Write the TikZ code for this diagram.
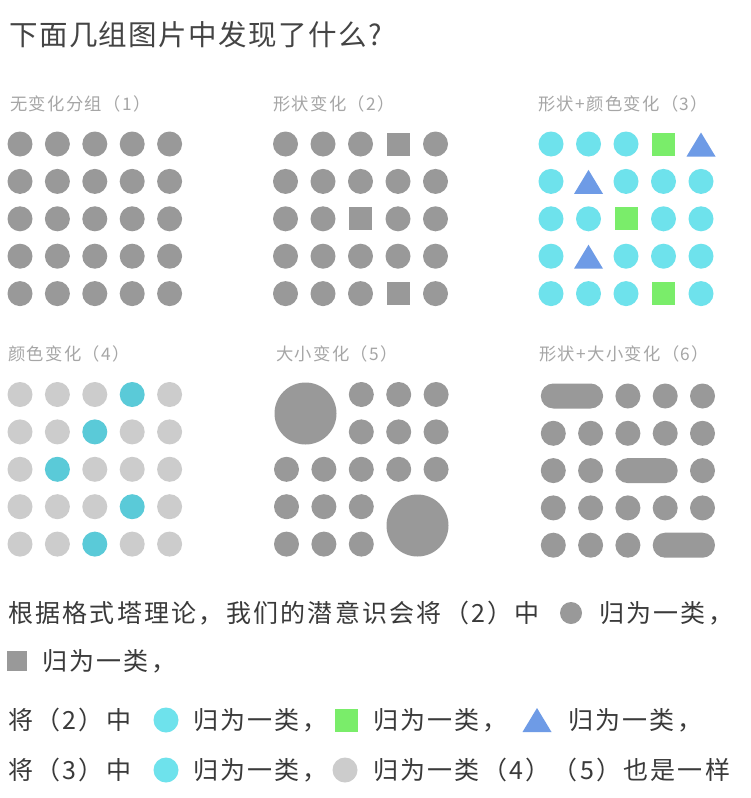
\documentclass[tikz,border=0pt]{standalone}
\usepackage{fontspec}
\newfontfamily\cjktitle[LetterSpace=5]{Noto Sans CJK SC}
\newfontfamily\cjklabel[LetterSpace=8]{Noto Sans CJK SC}
\newfontfamily\cjkbody[LetterSpace=9]{Noto Sans CJK SC}
\definecolor{dotgray}{HTML}{999999}
\definecolor{ltgray}{HTML}{CCCCCC}
\definecolor{cyanA}{HTML}{6EE2EC}
\definecolor{cyanB}{HTML}{5ACAD8}
\definecolor{greenA}{HTML}{7AED6A}
\definecolor{blueA}{HTML}{6E9BE6}
\definecolor{titlegray}{HTML}{444444}
\definecolor{labelgray}{HTML}{A6A6A6}
\definecolor{textgray}{HTML}{3A3A3A}
\tikzset{
  titletext/.style={anchor=west,inner sep=0pt,text=titlegray,font=\cjktitle\fontsize{28.5}{30}\selectfont},
  labeltext/.style={anchor=west,inner sep=0pt,text=labelgray,font=\cjklabel\fontsize{17.3}{19}\selectfont},
  bodytext/.style={anchor=west,inner sep=0pt,text=textgray,font=\cjkbody\fontsize{25}{27}\selectfont},
}
\newcommand\dotc[3]{\fill[#1] (#2,#3) circle[radius=12.5pt];}
\newcommand\sqc[3]{\fill[#1] (#2-11.5,#3-11.5) rectangle (#2+11.5,#3+11.5);}
\newcommand\trc[3]{\fill[#1] (#2-14.5,#3+12) -- (#2,#3-12) -- (#2+14.5,#3+12) -- cycle;}
\begin{document}
\begin{tikzpicture}[x=1pt,y=-1pt]
\useasboundingbox (0,0) rectangle (750,798);
\fill[white] (0,0) rectangle (750,798);
% title
\node[titletext] (title) at (9,35) {下面几组图片中发现了什么?};
% labels
\node[labeltext] (l1) at (10,104) {无变化分组（1）};
\node[labeltext] (l2) at (273,104) {形状变化（2）};
\node[labeltext] (l3) at (538,104) {形状+颜色变化（3）};
\node[labeltext] (l4) at (8,354) {颜色变化（4）};
\node[labeltext] (l5) at (276,354) {大小变化（5）};
\node[labeltext] (l6) at (539,354) {形状+大小变化（6）};
% panel 1
\foreach \i in {0,...,4}{\foreach \j in {0,...,4}{
  \dotc{dotgray}{20+37.4*\i}{144+37.4*\j}}}
% panel 2
\foreach \i/\j in {0/0,1/0,2/0,4/0, 0/1,1/1,2/1,3/1,4/1, 0/2,1/2,3/2,4/2, 0/3,1/3,2/3,3/3,4/3, 0/4,1/4,2/4,4/4}{
  \dotc{dotgray}{285.5+37.5*\i}{144+37.4*\j}}
\foreach \i/\j in {3/0,2/2,3/4}{\sqc{dotgray}{285.5+37.5*\i}{144+37.4*\j}}
% panel 3
\foreach \i/\j in {0/0,1/0,2/0, 0/1,2/1,3/1,4/1, 0/2,1/2,3/2,4/2, 0/3,2/3,3/3,4/3, 0/4,1/4,2/4,4/4}{
  \dotc{cyanA}{551+37.5*\i}{144+37.4*\j}}
\foreach \i/\j in {3/0,2/2,3/4}{\sqc{greenA}{551+37.5*\i}{144+37.4*\j}}
\foreach \i/\j in {4/0,1/1,1/3}{\trc{blueA}{551+37.5*\i}{144.5+37.4*\j}}
% panel 4
\foreach \i/\j in {0/0,1/0,2/0,4/0, 0/1,1/1,3/1,4/1, 0/2,2/2,3/2,4/2, 0/3,1/3,2/3,4/3, 0/4,1/4,3/4,4/4}{
  \dotc{ltgray}{20+37.4*\i}{394.5+37.4*\j}}
\foreach \i/\j in {3/0,2/1,1/2,3/3,2/4}{\dotc{cyanB}{20+37.4*\i}{394.5+37.4*\j}}
% panel 5
\foreach \i/\j in {2/0,3/0,4/0, 2/1,3/1,4/1, 0/2,1/2,2/2,3/2,4/2, 0/3,1/3,2/3, 0/4,1/4,2/4}{
  \dotc{dotgray}{286.5+37.4*\i}{394.5+37.4*\j}}
\fill[dotgray] (305.5,413.5) circle[radius=31pt];
\fill[dotgray] (417.5,525.5) circle[radius=31pt];
% panel 6
\foreach \i/\j in {2/0,3/0,4/0, 0/1,1/1,2/1,3/1,4/1, 0/2,1/2,4/2, 0/3,1/3,2/3,3/3,4/3, 0/4,1/4,2/4}{
  \dotc{dotgray}{553.3+37.3*\i}{396+37.3*\j}}
\fill[dotgray,rounded corners=12.5pt] (540.8,383.5) rectangle (603.1,408.5);
\fill[dotgray,rounded corners=12.5pt] (615.4,458.1) rectangle (677.7,483.1);
\fill[dotgray,rounded corners=12.5pt] (652.7,532.7) rectangle (715.0,557.7);
% bottom text
\node[bodytext] (t1) at (8,613) {根据格式塔理论，我们的潜意识会将（2）中};
\fill[dotgray] (571,613) circle[radius=11pt];
\node[bodytext] (t1b) at (599,613) {归为一类，};
\fill[dotgray] (7,651) rectangle (27,671);
\node[bodytext] (t2) at (42,661) {归为一类，};
\node[bodytext] (t3) at (8,720) {将（2）中};
\dotc{cyanA}{166}{720}
\node[bodytext] (t3b) at (193,720) {归为一类，};
\sqc{greenA}{346}{720}
\node[bodytext] (t3c) at (373,720) {归为一类，};
\trc{blueA}{537}{720}
\node[bodytext] (t3d) at (568,720) {归为一类，};
\node[bodytext] (t4) at (8,770) {将（3）中};
\dotc{cyanA}{166}{770}
\node[bodytext] (t4b) at (193,770) {归为一类，};
\dotc{ltgray}{345}{770}
\node[bodytext] (t4c) at (373,770) {归为一类（4）（5）也是一样};
\end{tikzpicture}
\end{document}
